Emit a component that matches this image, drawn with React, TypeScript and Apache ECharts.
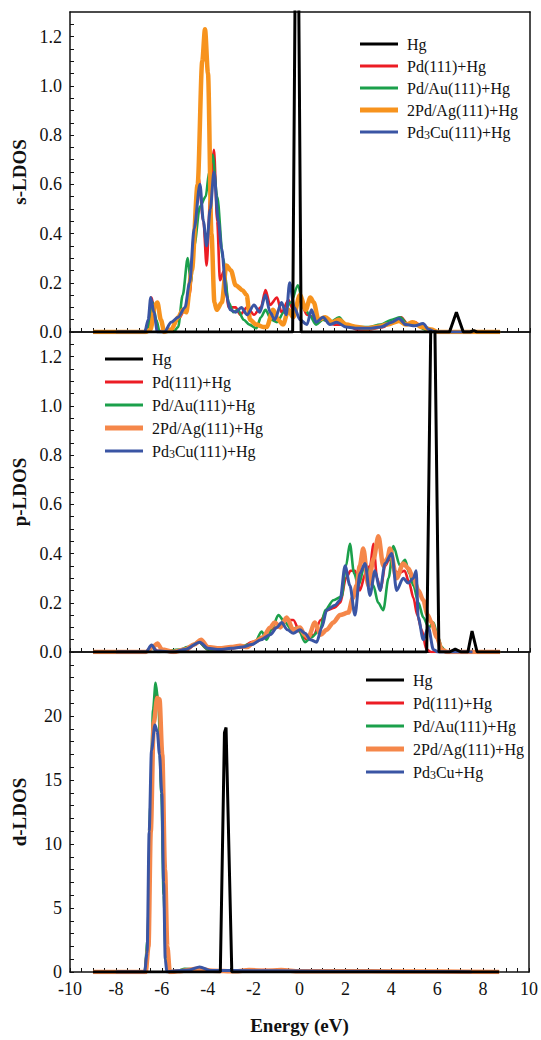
import React, { useEffect, useRef } from 'react';
import * as echarts from 'echarts';

// ---------- labels ----------
const legendLabels = ['Hg', 'Pd(111)+Hg', 'Pd/Au(111)+Hg', '2Pd/Ag(111)+Hg', 'Pd3Cu(111)+Hg'];
const legendLabelsD = ['Hg', 'Pd(111)+Hg', 'Pd/Au(111)+Hg', '2Pd/Ag(111)+Hg', 'Pd3Cu+Hg'];
const panelNames = ['s-LDOS', 'p-LDOS', 'd-LDOS'];
const xTitle = 'Energy (eV)';

// ---------- s-LDOS ----------
const sHg = [[-9, 0], [-0.32, 0], [-0.135, 2.4], [0.05, 0], [6.5, 0], [6.8, 0.08], [7.1, 0], [7.4, 0], [7.55, 0.006], [7.7, 0], [8.7, 0]];
const sPd = [[-9, 0], [-6.8, 0], [-6.6, 0.02], [-6.45, 0.14], [-6.3, 0.06], [-6.2, 0.01], [-6.0, 0], [-5.6, 0.01], [-5.3, 0.05], [-5.0, 0.09], [-4.8, 0.15], [-4.6, 0.4], [-4.42, 0.63], [-4.2, 0.45], [-4.06, 0.27], [-3.9, 0.55], [-3.74, 0.74], [-3.6, 0.45], [-3.48, 0.21], [-3.3, 0.25], [-3.1, 0.1], [-2.8, 0.1], [-2.6, 0.07], [-2.3, 0.1], [-2.0, 0.07], [-1.7, 0.1], [-1.5, 0.17], [-1.3, 0.11], [-1.0, 0.14], [-0.8, 0.08], [-0.5, 0.13], [-0.3, 0.09], [0, 0.13], [0.3, 0.07], [0.6, 0.06], [1.0, 0.05], [1.5, 0.03], [2.0, 0.03], [2.5, 0.01], [3.0, 0.01], [3.6, 0.02], [4.0, 0.04], [4.4, 0.06], [4.7, 0.03], [5.0, 0.04], [5.3, 0.02], [5.6, 0], [8.7, 0]];
const sPdAu = [[-9, 0], [-6.8, 0], [-6.6, 0.02], [-6.4, 0.12], [-6.25, 0.05], [-6.1, 0], [-5.5, 0], [-5.3, 0.02], [-5.1, 0.15], [-4.88, 0.3], [-4.75, 0.2], [-4.6, 0.35], [-4.35, 0.51], [-4.1, 0.55], [-3.95, 0.65], [-3.8, 0.72], [-3.6, 0.55], [-3.35, 0.3], [-3.1, 0.12], [-2.9, 0.08], [-2.7, 0.09], [-2.45, 0.05], [-2.2, 0.03], [-1.9, 0.015], [-1.7, 0.06], [-1.5, 0.09], [-1.25, 0.05], [-1.0, 0.04], [-0.7, 0.08], [-0.4, 0.12], [-0.09, 0.19], [0.15, 0.11], [0.4, 0.07], [0.7, 0.03], [1.0, 0.05], [1.3, 0.04], [1.7, 0.06], [2.0, 0.03], [2.5, 0.02], [3.0, 0.02], [3.5, 0.03], [4.0, 0.05], [4.35, 0.06], [4.7, 0.03], [5.1, 0.03], [5.4, 0.01], [5.7, 0], [8.7, 0]];
const s2PdAg = [[-9, 0], [-6.7, 0], [-6.5, 0.01], [-6.3, 0.11], [-6.2, 0.12], [-6.05, 0.05], [-5.9, 0], [-5.6, 0.01], [-5.3, 0.06], [-5.09, 0.09], [-4.95, 0.08], [-4.7, 0.25], [-4.45, 0.6], [-4.25, 1.1], [-4.13, 1.23], [-4.0, 1.05], [-3.85, 0.4], [-3.72, 0.12], [-3.62, 0.09], [-3.4, 0.12], [-3.2, 0.27], [-3.0, 0.25], [-2.8, 0.19], [-2.5, 0.17], [-2.32, 0.15], [-2.17, 0.05], [-1.9, 0.03], [-1.6, 0.02], [-1.45, 0.02], [-1.17, 0.09], [-0.95, 0.05], [-0.74, 0.03], [-0.5, 0.09], [-0.3, 0.06], [0, 0.15], [0.25, 0.09], [0.45, 0.14], [0.6, 0.12], [0.8, 0.05], [1.1, 0.06], [1.4, 0.04], [1.7, 0.05], [2.0, 0.03], [2.5, 0.02], [2.9, 0.015], [3.3, 0.02], [3.8, 0.03], [4.3, 0.045], [4.6, 0.03], [4.9, 0.04], [5.3, 0.02], [5.7, 0.01], [6.0, 0], [8.7, 0]];
const sPd3Cu = [[-8, 0], [-6.75, 0], [-6.6, 0.05], [-6.49, 0.14], [-6.35, 0.08], [-6.2, 0], [-5.9, 0], [-5.6, 0.04], [-5.3, 0.06], [-5.0, 0.1], [-4.8, 0.2], [-4.6, 0.42], [-4.35, 0.6], [-4.2, 0.45], [-4.06, 0.35], [-3.9, 0.5], [-3.74, 0.65], [-3.55, 0.45], [-3.41, 0.34], [-3.2, 0.15], [-3.04, 0.09], [-2.8, 0.08], [-2.55, 0.1], [-2.3, 0.07], [-2.0, 0.11], [-1.75, 0.08], [-1.5, 0.15], [-1.3, 0.08], [-1.1, 0.05], [-0.8, 0.12], [-0.6, 0.07], [-0.45, 0.2], [-0.25, 0.1], [0, 0.05], [0.3, 0.03], [0.5, 0.09], [0.7, 0.04], [1.0, 0.06], [1.3, 0.03], [1.6, 0.04], [2.0, 0.02], [2.5, 0.015], [3.0, 0.015], [3.5, 0.02], [4.0, 0.04], [4.3, 0.055], [4.6, 0.03], [5.0, 0.025], [5.35, 0.035], [5.6, 0.01], [5.9, 0], [7.5, 0]];

// ---------- p-LDOS ----------
const pHg = [[-9, 0], [5.51, 0], [5.775, 2.0], [6.04, 0], [6.5, 0], [6.75, 0.012], [7.0, 0], [7.3, 0], [7.48, 0.085], [7.7, 0], [8.7, 0]];
const pPd = [[-9, 0], [-6.7, 0], [-6.45, 0.025], [-6.2, 0.005], [-5.5, 0], [-5, 0.005], [-4.4, 0.04], [-4, 0.01], [-3.5, 0.01], [-3, 0.015], [-2.5, 0.02], [-2.1, 0.04], [-1.7, 0.05], [-1.3, 0.09], [-1.0, 0.1], [-0.6, 0.13], [-0.29, 0.13], [0, 0.08], [0.3, 0.05], [0.6, 0.07], [0.9, 0.13], [1.2, 0.17], [1.5, 0.18], [1.75, 0.2], [2.0, 0.3], [2.2, 0.33], [2.4, 0.33], [2.6, 0.25], [2.85, 0.32], [3.05, 0.35], [3.19, 0.44], [3.35, 0.3], [3.5, 0.25], [3.7, 0.35], [3.9, 0.38], [4.1, 0.33], [4.3, 0.32], [4.55, 0.33], [4.75, 0.28], [4.93, 0.22], [5.1, 0.15], [5.29, 0.09], [5.5, 0.01], [5.7, 0], [8.7, 0]];
const pPdAu = [[-9, 0], [-6.7, 0], [-6.45, 0.02], [-6.2, 0], [-5.2, 0.01], [-4.9, 0.02], [-4.4, 0.04], [-4.0, 0.01], [-3.3, 0.015], [-2.7, 0.02], [-2.2, 0.03], [-1.95, 0.04], [-1.67, 0.083], [-1.45, 0.05], [-1.2, 0.1], [-0.94, 0.15], [-0.65, 0.12], [-0.36, 0.09], [-0.1, 0.1], [0.22, 0.04], [0.5, 0.06], [0.87, 0.09], [1.1, 0.17], [1.45, 0.21], [1.81, 0.225], [2.0, 0.35], [2.17, 0.44], [2.35, 0.32], [2.54, 0.27], [2.83, 0.36], [3.0, 0.32], [3.19, 0.27], [3.4, 0.2], [3.62, 0.17], [3.85, 0.3], [4.06, 0.43], [4.35, 0.35], [4.57, 0.375], [4.75, 0.32], [4.93, 0.27], [5.15, 0.2], [5.36, 0.14], [5.6, 0.1], [5.8, 0.12], [6.0, 0.06], [6.16, 0.02], [6.35, 0], [8.7, 0]];
const p2PdAg = [[-9, 0], [-6.7, 0], [-6.4, 0.02], [-6.2, 0.035], [-6.0, 0.01], [-5.5, 0], [-5.0, 0.01], [-4.6, 0.03], [-4.3, 0.05], [-4.0, 0.02], [-3.5, 0.015], [-3.0, 0.02], [-2.6, 0.025], [-2.3, 0.02], [-2.0, 0.04], [-1.6, 0.06], [-1.3, 0.1], [-1.1, 0.12], [-0.85, 0.1], [-0.58, 0.14], [-0.29, 0.09], [0, 0.1], [0.2, 0.07], [0.36, 0.06], [0.65, 0.12], [0.9, 0.07], [1.16, 0.09], [1.45, 0.12], [1.74, 0.15], [2.1, 0.16], [2.3, 0.22], [2.46, 0.27], [2.6, 0.35], [2.75, 0.42], [2.97, 0.27], [3.2, 0.38], [3.41, 0.47], [3.62, 0.35], [3.8, 0.38], [3.91, 0.42], [4.2, 0.3], [4.49, 0.36], [4.7, 0.34], [4.93, 0.3], [5.15, 0.25], [5.36, 0.21], [5.55, 0.15], [5.72, 0.12], [5.95, 0.06], [6.16, 0.01], [6.4, 0], [8.7, 0]];
const pPd3Cu = [[-8, 0], [-6.7, 0], [-6.45, 0.028], [-6.25, 0.005], [-5.5, 0], [-5.0, 0.01], [-4.35, 0.04], [-4.0, 0.015], [-3.5, 0.01], [-3.0, 0.015], [-2.5, 0.02], [-2.1, 0.03], [-1.7, 0.05], [-1.3, 0.07], [-1.0, 0.1], [-0.8, 0.12], [-0.55, 0.09], [-0.29, 0.076], [0, 0.09], [0.22, 0.076], [0.45, 0.05], [0.72, 0.04], [0.95, 0.1], [1.16, 0.17], [1.52, 0.19], [1.74, 0.21], [1.96, 0.35], [2.17, 0.27], [2.39, 0.15], [2.61, 0.32], [2.83, 0.36], [3.04, 0.23], [3.26, 0.33], [3.48, 0.25], [3.7, 0.36], [3.99, 0.4], [4.2, 0.25], [4.49, 0.3], [4.7, 0.28], [4.93, 0.3], [5.05, 0.33], [5.14, 0.14], [5.36, 0.05], [5.58, 0.1], [5.8, 0.01], [6.0, 0], [7.5, 0]];

// ---------- d-LDOS ----------
const dHg = [[-9, 0], [-3.45, 0], [-3.27, 18.7], [-3.2, 19.1], [-2.95, 0], [8.7, 0]];
const dPd = [[-9, 0], [-6.75, 0], [-6.62, 2], [-6.5, 12], [-6.38, 19.5], [-6.25, 22], [-6.12, 20.5], [-6.0, 14], [-5.9, 6], [-5.8, 1], [-5.7, 0], [-5.3, 0.1], [-4.8, 0.15], [-4.4, 0.3], [-3.9, 0.1], [-2.5, 0.12], [-1.5, 0.15], [-0.5, 0.1], [1, 0.06], [3, 0.05], [6, 0.04], [8.7, 0]];
const dPdAu = [[-9, 0], [-6.75, 0], [-6.62, 2.5], [-6.5, 13], [-6.38, 20.5], [-6.27, 22.6], [-6.15, 21], [-6.02, 14], [-5.92, 6], [-5.82, 0.8], [-5.7, 0], [-5.3, 0.1], [-5.0, 0.25], [-4.6, 0.2], [-4.35, 0.35], [-3.9, 0.1], [-2.5, 0.1], [-1.5, 0.12], [-0.5, 0.1], [1, 0.06], [3, 0.05], [6, 0.04], [8.7, 0]];
const d2PdAg = [[-9, 0], [-6.7, 0], [-6.58, 2], [-6.48, 11], [-6.35, 19.5], [-6.2, 21.4], [-6.1, 21.3], [-5.98, 17], [-5.86, 8], [-5.76, 2], [-5.65, 0], [-5.3, 0.05], [-4.4, 0.25], [-3.8, 0.1], [-2.8, 0.05], [-2.2, 0.15], [-1.5, 0.1], [-0.8, 0.15], [0, 0.05], [3, 0.05], [6, 0.03], [8.7, 0]];
const dPd3Cu = [[-8, 0], [-6.75, 0], [-6.64, 1.5], [-6.55, 11], [-6.45, 17.3], [-6.3, 19.3], [-6.2, 18.8], [-6.1, 17], [-6.0, 14], [-5.92, 7], [-5.85, 1], [-5.78, 0], [-5.5, 0.08], [-4.8, 0.15], [-4.35, 0.4], [-3.9, 0.12], [-2, 0.1], [0, 0.08], [3, 0.05], [6.3, 0.02], [7.5, 0]];

// ---------- styling ----------
const FONT = 'Liberation Serif';
const INK = '#111';
const panels = [
  { key: 's', name: panelNames[0], max: 1.3, step: 0.05, labelEvery: 0.2, digits: 1, labels: legendLabels,
    data: [sHg, sPd, sPdAu, s2PdAg, sPd3Cu], orange: '#f7931e', legend: { left: 360, top: 36, gap: 6 } },
  { key: 'p', name: panelNames[1], max: 1.3, step: 0.05, labelEvery: 0.2, digits: 1, labels: legendLabels,
    data: [pHg, pPd, pPdAu, p2PdAg, pPd3Cu], orange: '#f5874a', legend: { left: 105, top: 351, gap: 7 } },
  { key: 'd', name: panelNames[2], max: 25, step: 1, labelEvery: 5, digits: 0, labels: legendLabelsD,
    data: [dHg, dPd, dPdAu, d2PdAg, dPd3Cu], orange: '#f5874a', legend: { left: 366, top: 672, gap: 7 } },
];

const THIN_ICON = 'path://M0,0M0,10M0,3.6H38V6.4H0Z';
const THICK_ICON = 'path://M0,0M0,10M0,2.6H38V7.4H0Z';

const isMultiple = (v: number, m: number) => Math.abs(v / m - Math.round(v / m)) < 1e-6;

function buildOption() {
  const grid: any[] = [];
  const xAxis: any[] = [];
  const yAxis: any[] = [];
  const series: any[] = [];
  const legend: any[] = [];
  const axisLineStyle = { color: INK, width: 1.5 };

  panels.forEach((p, i) => {
    grid.push({ left: 70, width: 460, top: 12 + 320 * i, height: 320 });
    xAxis.push({
      gridIndex: i, type: 'value', min: -10, max: 10, interval: 0.5,
      axisLine: { onZero: false, lineStyle: axisLineStyle },
      axisTick: { inside: true, length: 4, lineStyle: { color: INK, width: 1 } },
      axisLabel: {
        show: i === 2, fontFamily: FONT, fontSize: 18, color: INK, margin: 8,
        formatter: (v: number) => (isMultiple(v, 2) ? String(Math.round(v)) : ''),
      },
      splitLine: { show: false },
      name: i === 2 ? xTitle : '', nameLocation: 'middle', nameGap: 44,
      nameTextStyle: { fontFamily: FONT, fontSize: 19, fontWeight: 'bold', color: INK },
    });
    xAxis.push({
      gridIndex: i, type: 'value', min: -10, max: 10, position: 'top',
      axisLine: { onZero: false, lineStyle: axisLineStyle }, axisTick: { show: false },
      axisLabel: { show: false }, splitLine: { show: false },
    });
    yAxis.push({
      gridIndex: i, type: 'value', min: 0, max: p.max, interval: p.step,
      axisLine: { show: true, onZero: false, lineStyle: axisLineStyle },
      axisTick: { show: true, inside: true, length: 4, lineStyle: { color: INK, width: 1 } },
      axisLabel: {
        fontFamily: FONT, fontSize: 18, color: INK, margin: 8, showMaxLabel: false,
        formatter: (v: number) => (isMultiple(v, p.labelEvery) && v < p.max - 1e-9 ? v.toFixed(p.digits) : ''),
      },
      splitLine: { show: false },
      name: p.name, nameLocation: 'middle', nameGap: 41,
      nameTextStyle: { fontFamily: FONT, fontSize: 19, fontWeight: 'bold', color: INK },
    });
    yAxis.push({
      gridIndex: i, type: 'value', min: 0, max: p.max, position: 'right',
      axisLine: { show: true, onZero: false, lineStyle: axisLineStyle }, axisTick: { show: false },
      axisLabel: { show: false }, splitLine: { show: false },
    });

    const colors = ['#000000', '#ec1c24', '#1ba04b', p.orange, '#3a55a4'];
    const widths = [3, 2.6, 2.6, 4.5, 3];
    const zs = [6, 2, 3, 4, 5];
    const names = p.labels.map((l) => `${p.key}:${l}`);
    // drawing order: red, green, orange, blue, black
    [1, 2, 3, 4, 0].forEach((k) => {
      series.push({
        type: 'line', name: names[k], xAxisIndex: i * 2, yAxisIndex: i * 2,
        data: p.data[k], symbol: 'none', showSymbol: false,
        smooth: k === 0 ? false : 0.3, smoothMonotone: 'x',
        lineStyle: { color: colors[k], width: widths[k] }, itemStyle: { color: colors[k] },
        z: zs[k], clip: true,
      });
    });
    legend.push({
      data: names.map((n, k) => ({ name: n, icon: k === 3 ? THICK_ICON : THIN_ICON })),
      orient: 'vertical', left: p.legend.left, top: p.legend.top,
      itemWidth: 38, itemHeight: 10, itemGap: p.legend.gap, padding: 0,
      selectedMode: false,
      formatter: (n: string) => {
        const label = n.slice(2);
        if (label.startsWith('Pd3Cu')) return `{n|Pd}{s|3}{n|${label.slice(3)}}`;
        return `{n|${label}}`;
      },
      textStyle: {
        fontFamily: FONT, fontSize: 16, color: INK, padding: [0, 0, 0, 4],
        rich: {
          n: { fontFamily: FONT, fontSize: 16, color: INK, lineHeight: 18 },
          s: { fontFamily: FONT, fontSize: 12, color: INK, lineHeight: 10, verticalAlign: 'bottom' },
        },
      },
    });
  });

  return { animation: false, backgroundColor: '#ffffff', grid, xAxis, yAxis, series, legend };
}

export default function App() {
  const ref = useRef<HTMLDivElement>(null);
  useEffect(() => {
    if (!ref.current) return;
    const chart = echarts.init(ref.current, null, { renderer: 'svg' });
    chart.setOption(buildOption() as any);
    return () => chart.dispose();
  }, []);
  return (
    <div
      ref={ref}
      style={{ position: 'absolute', left: 0, top: 0, width: 541, height: 1040, background: '#fff' }}
    />
  );
}
